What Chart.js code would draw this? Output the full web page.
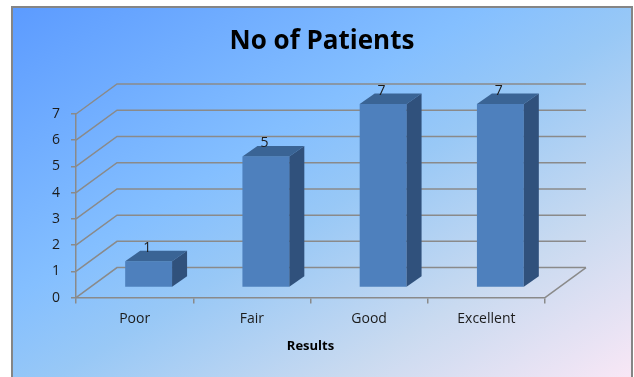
<!DOCTYPE html>
<html>
<head>
<meta charset="utf-8">
<script src="https://cdn.jsdelivr.net/npm/chart.js@4"></script>
<style>
  html, body { margin: 0; padding: 0; background: #fff; }
  body { width: 634px; height: 377px; position: relative; overflow: hidden; }
  .frame {
    position: absolute; left: 11px; top: 6px; width: 618px; height: 380px;
    border: 2px solid #858585;
    background: linear-gradient(to bottom right, #5c9bff 0%, #84bfff 38%, #98c8f6 52%, #c9daf0 75%, #fbe8f6 100%);
  }
  canvas { position: absolute; left: 0; top: 0; }
</style>
</head>
<body>
<div class="frame"></div>
<canvas id="chart" width="634" height="377"></canvas>
<script>

const categories = ['Poor', 'Fair', 'Good', 'Excellent'];
const patients = [1, 5, 7, 7];
const yTicks = [0, 1, 2, 3, 4, 5, 6, 7];

const chartTitle = 'No of Patients';
const xTitle = 'Results';

// offsets used to fake the 3d look
const wallDepth = { x: 41, y: -30 };
const barShift = { x: 14, y: -10 };
const barDepth = { x: 15, y: -10.5 };

const gridColor = '#8a8a8a';
const textColor = '#1c1c1c';

// back wall, side wall and floor lines
const wallPlugin = {
  id: 'wall3d',
  beforeDatasetsDraw(chart) {
    const ctx = chart.ctx;
    const a = chart.chartArea;
    const y = chart.scales.y;
    ctx.save();
    ctx.strokeStyle = gridColor;
    ctx.lineWidth = 1.5;
    y.ticks.forEach(t => {
      const py = y.getPixelForValue(t.value);
      ctx.beginPath();
      ctx.moveTo(a.left, py);
      ctx.lineTo(a.left + wallDepth.x, py + wallDepth.y);
      ctx.lineTo(a.right + wallDepth.x, py + wallDepth.y);
      ctx.stroke();
    });
    ctx.beginPath();
    ctx.moveTo(a.right, a.bottom);
    ctx.lineTo(a.right + wallDepth.x, a.bottom + wallDepth.y);
    ctx.stroke();
    ctx.restore();

    // bars sit a bit behind the front plane
    ctx.save();
    ctx.translate(barShift.x, barShift.y);
  },
  afterDatasetsDraw(chart) {
    const ctx = chart.ctx;
    const meta = chart.getDatasetMeta(0);
    meta.data.forEach((bar, i) => {
      const x0 = bar.x - bar.width / 2;
      const x1 = bar.x + bar.width / 2;
      const top = bar.y;
      const base = bar.base;

      ctx.fillStyle = '#3a6495';
      ctx.beginPath();
      ctx.moveTo(x0, top);
      ctx.lineTo(x0 + barDepth.x, top + barDepth.y);
      ctx.lineTo(x1 + barDepth.x, top + barDepth.y);
      ctx.lineTo(x1, top);
      ctx.closePath();
      ctx.fill();

      ctx.fillStyle = '#30517c';
      ctx.beginPath();
      ctx.moveTo(x1, top);
      ctx.lineTo(x1 + barDepth.x, top + barDepth.y);
      ctx.lineTo(x1 + barDepth.x, base + barDepth.y);
      ctx.lineTo(x1, base);
      ctx.closePath();
      ctx.fill();

      ctx.fillStyle = textColor;
      ctx.font = '14px "Open Sans"';
      ctx.textAlign = 'center';
      ctx.textBaseline = 'alphabetic';
      ctx.fillText(String(patients[i]), bar.x - 1.5, top + barDepth.y + 1);
    });
    ctx.restore();

    // chart title
    ctx.save();
    ctx.fillStyle = '#000';
    ctx.font = 'bold 26px "Open Sans"';
    ctx.textAlign = 'center';
    ctx.textBaseline = 'alphabetic';
    ctx.fillText(chartTitle, 322, 49);
    ctx.restore();
  }
};

new Chart(document.getElementById('chart'), {
  type: 'bar',
  data: {
    labels: categories,
    datasets: [
      {
        label: chartTitle,
        data: patients,
        backgroundColor: '#4e80bd',
        borderWidth: 0,
        barPercentage: 0.4,
        categoryPercentage: 1,
      },
    ],
  },
  options: {
    responsive: false,
    animation: false,
    devicePixelRatio: 1,
    layout: { padding: { left: 41, right: 89, top: 114, bottom: 23 } },
    plugins: {
      legend: { display: false },
      title: { display: false },
      tooltip: { enabled: false },
    },
    scales: {
      x: {
        grid: { drawOnChartArea: false, drawTicks: true, tickLength: 6, color: gridColor, lineWidth: 1.5, offset: true },
        border: { display: true, color: gridColor, width: 1.5 },
        ticks: { color: textColor, padding: 7, font: { family: 'Open Sans', size: 14 } },
        title: { display: true, text: xTitle, color: '#000', padding: { top: 4, bottom: 0 }, font: { family: 'Open Sans', size: 13, weight: 'bold' } },
      },
      y: {
        min: yTicks[0],
        max: yTicks[yTicks.length - 1],
        afterBuildTicks(scale) {
          scale.ticks = yTicks.map(v => ({ value: v }));
        },
        grid: { drawOnChartArea: false, drawTicks: true, tickLength: 5, color: gridColor, lineWidth: 1.5 },
        border: { display: true, color: gridColor, width: 1.5 },
        ticks: { color: textColor, padding: 11, font: { family: 'Open Sans', size: 14 } },
      },
    },
  },
  plugins: [wallPlugin],
});

</script>
</body>
</html>
